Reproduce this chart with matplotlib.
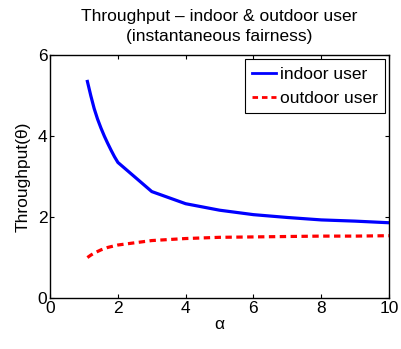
import numpy as np
import matplotlib
matplotlib.use('Agg')
import matplotlib.pyplot as plt

plt.rcParams['font.family'] = ['Liberation Sans', 'DejaVu Sans']

alpha = [1.1, 1.2, 1.3, 1.4, 1.5, 1.6, 1.7, 1.8, 1.9, 2, 3, 4, 5, 6, 7, 8, 9, 10]
indoor = [5.35, 5.0, 4.68, 4.42, 4.2, 4.0, 3.82, 3.65, 3.49, 3.35, 2.63, 2.33, 2.17,
          2.06, 1.99, 1.93, 1.90, 1.86]
outdoor = [1.0, 1.06, 1.11, 1.15, 1.19, 1.22, 1.25, 1.27, 1.29, 1.31, 1.42, 1.47,
           1.50, 1.51, 1.52, 1.53, 1.53, 1.54]

fig = plt.figure(figsize=(4.01, 3.49), dpi=100)
ax = fig.add_axes([0.125, 0.146, 0.845, 0.696])

ax.plot(alpha, indoor, '-', color='#0000ff', lw=2.3, label='indoor user')
ax.plot(alpha, outdoor, '--', color='#ff0000', lw=2.3, label='outdoor user', dashes=(2.0, 1.4))

ax.set_xlim(0, 10)
ax.set_ylim(0, 6)
ax.set_xticks([0, 2, 4, 6, 8, 10])
ax.set_yticks([0, 2, 4, 6])
for s in ax.spines.values():
    s.set_linewidth(1.0)
ax.tick_params(direction='in', top=True, right=True, labelsize=12.5, length=3, pad=2)
ax.set_xlabel('α', fontsize=12.5, labelpad=1)
ax.set_ylabel('Throughput(θ)', fontsize=12.5, labelpad=5)
ax.set_title('Throughput – indoor & outdoor user\n(instantaneous fairness)', fontsize=12.5,
             pad=10, linespacing=1.4)

leg = ax.legend(loc='upper right', fontsize=12.5, handlelength=1.4, handletextpad=0.2,
                borderaxespad=0.25, borderpad=0.4, fancybox=False, framealpha=1,
                labelspacing=0.55)
leg.get_frame().set_edgecolor('black')
leg.get_frame().set_linewidth(0.8)
for h in leg.get_lines():
    h.set_linewidth(2)

plt.savefig('out.png', dpi=100)
